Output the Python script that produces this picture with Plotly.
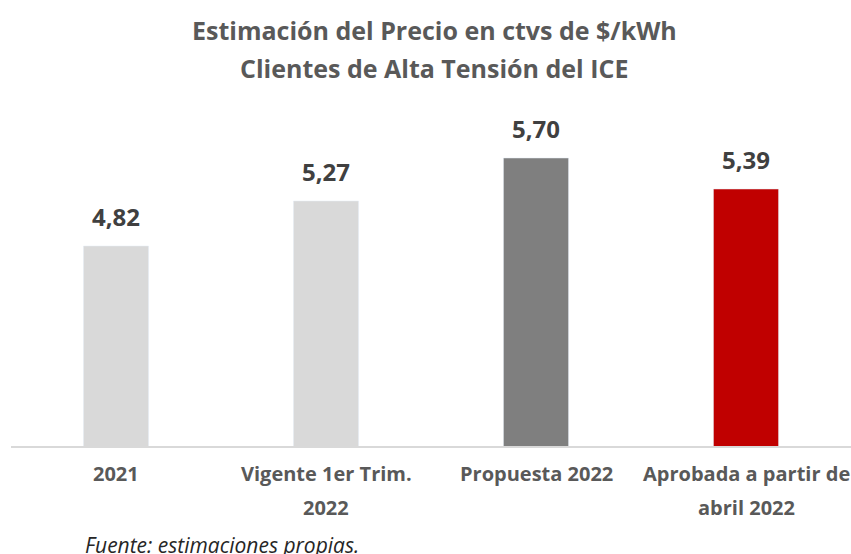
import plotly.graph_objects as go

categories = ["2021", "Vigente 1er Trim. 2022", "Propuesta 2022", "Aprobada a partir de abril 2022"]
tick_labels = [["2021"], ["Vigente 1er Trim.", "2022"], ["Propuesta 2022"], ["Aprobada a partir de", "abril 2022"]]
values = [4.82, 5.27, 5.70, 5.39]
colors = ["#D9D9D9", "#D9D9D9", "#7F7F7F", "#C00000"]
labels = [f"{v:.2f}".replace(".", ",") for v in values]

W, H = 851, 554
PL, PR, PT, PB = 11, 0, 108, 108
ph = H - PT - PB
def py(pix):
    return (H - PB - pix) / ph
def px(pix):
    return (pix - PL) / (W - PL - PR)

fig = go.Figure()
fig.add_trace(go.Bar(x=categories, y=values, marker_color=colors, width=0.31,
                     hoverinfo="skip"))

for i, (v, t) in enumerate(zip(values, labels)):
    fig.add_annotation(x=i, y=v, text=f"<b>{t}</b>", showarrow=False,
                       yanchor="bottom", yshift=11,
                       font=dict(family="Open Sans", size=24, color="#404040"))

for i, lines in enumerate(tick_labels):
    for k, line in enumerate(lines):
        fig.add_annotation(x=i, xref="x", yref="paper", y=py(473 + 34 * k),
                           yanchor="middle", xanchor="center", showarrow=False,
                           text=f"<b>{line}</b>",
                           font=dict(family="Open Sans", size=20, color="#595959"))

for txt, yc in [("Estimación del Precio en ctvs de $/kWh", 30),
                ("Clientes de Alta Tensión del ICE", 68)]:
    fig.add_annotation(xref="paper", yref="paper", x=px(434), y=py(yc),
                       yanchor="middle", xanchor="center", showarrow=False,
                       text=f"<b>{txt}</b>",
                       font=dict(family="Open Sans", size=25, color="#595959"))

fig.add_annotation(xref="paper", yref="paper", x=px(83), y=py(545),
                   yanchor="middle", xanchor="left", showarrow=False,
                   text="<i>Fuente: estimaciones propias.</i>",
                   font=dict(family="Open Sans", size=21, color="#262626"))

fig.update_layout(
    width=W, height=H,
    margin=dict(l=PL, r=PR, t=PT, b=PB),
    plot_bgcolor="white", paper_bgcolor="white",
    showlegend=False,
)
fig.update_xaxes(type="category", range=[-0.5, 3.5], showline=True,
                 linecolor="#D9D9D9", linewidth=1.5,
                 showticklabels=False, ticks="")
fig.update_yaxes(range=[2.82, 6.2], visible=False)

fig.write_html("out.html", config={"displayModeBar": False},
               post_script="document.body.style.margin='0';")
